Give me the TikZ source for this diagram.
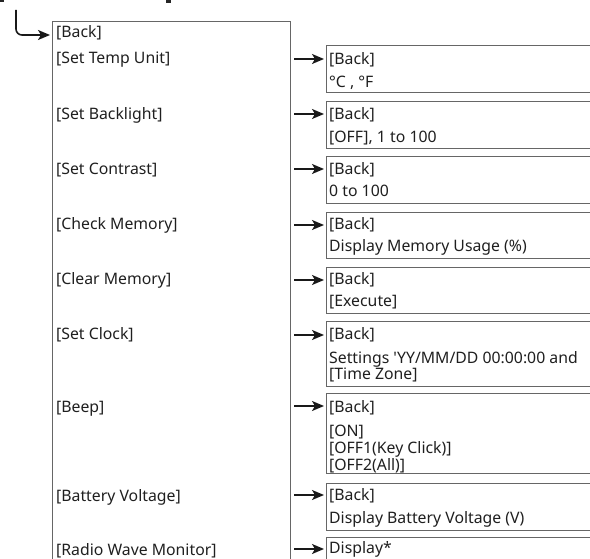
\documentclass[tikz,border=0pt]{standalone}
\usepackage{fontspec}
\newfontfamily\nsans{Noto Sans}
\usetikzlibrary{arrows.meta}
\begin{document}
\begin{tikzpicture}[x=1pt,y=-1pt,
  box/.style={draw=black!60,line width=1.3pt,anchor=north west,inner sep=0pt,minimum width=300pt},
  txt/.style={anchor=base west,inner sep=0pt,text=black!88,font=\nsans\fontsize{15.8}{17}\selectfont},
  arr/.style={line width=1.6pt,black!90,-{Stealth[length=12pt,width=10pt,inset=3pt]},shorten >=2pt}]
\useasboundingbox (0,0) rectangle (590,559);
\clip (0,0) rectangle (590,559);
% cut-off heading fragments
\fill[black!85] (0,0) rectangle (4,2);
\fill[black!85] (166,0) rectangle (171,3);
% main box
\node[box,minimum width=238pt,minimum height=600pt] (main) at (52,21) {};
% entry arrow
\coordinate (start) at (16,10);
\node[txt] (m0) at (56,38) {[Back]};
\draw[arr,rounded corners=6pt] (start) |- (main.west |- 0,35);
% main items
\node[txt] (m1) at (56,64) {[Set Temp Unit]};
\node[txt] (m2) at (56,120) {[Set Backlight]};
\node[txt] (m3) at (56,175) {[Set Contrast]};
\node[txt] (m4) at (56,230) {[Check Memory]};
\node[txt] (m5) at (56,285) {[Clear Memory]};
\node[txt] (m6) at (56,340) {[Set Clock]};
\node[txt] (m7) at (56,412) {[Beep]};
\node[txt] (m8) at (56,501) {[Battery Voltage]};
\node[txt] (m9) at (56,555) {[Radio Wave Monitor]};
% sub boxes
\node[box,minimum height=47pt] (b1) at (326,45) {};
\node[box,minimum height=47pt] (b2) at (326,101) {};
\node[box,minimum height=47pt] (b3) at (326,156) {};
\node[box,minimum height=46pt] (b4) at (326,212) {};
\node[box,minimum height=46pt] (b5) at (326,267) {};
\node[box,minimum height=65pt] (b6) at (326,321) {};
\node[box,minimum height=80pt] (b7) at (326,393) {};
\node[box,minimum height=47pt] (b8) at (326,483) {};
\node[box,minimum height=60pt] (b9) at (326,537) {};
% sub texts
\node[txt] (s1a) at (329,65) {[Back]};
\node[txt] (s1b) at (329,88) {°C , °F};
\node[txt] (s2a) at (329,120) {[Back]};
\node[txt] (s2b) at (329,143) {[OFF], 1 to 100};
\node[txt] (s3a) at (329,175) {[Back]};
\node[txt] (s3b) at (329,197) {0 to 100};
\node[txt] (s4a) at (329,230) {[Back]};
\node[txt] (s4b) at (329,252) {Display Memory Usage (\%)};
\node[txt] (s5a) at (329,285) {[Back]};
\node[txt] (s5b) at (329,307) {[Execute]};
\node[txt] (s6a) at (329,340) {[Back]};
\node[txt] (s6b) at (329,363) {Settings 'YY/MM/DD 00:00:00 and};
\node[txt] (s6c) at (329,380) {[Time Zone]};
\node[txt] (s7a) at (329,412) {[Back]};
\node[txt] (s7b) at (329,436) {[ON]};
\node[txt] (s7c) at (329,453) {[OFF1(Key Click)]};
\node[txt] (s7d) at (329,470) {[OFF2(All)]};
\node[txt] (s8a) at (329,500) {[Back]};
\node[txt] (s8b) at (329,523) {Display Battery Voltage (V)};
\node[txt] (s9a) at (329,553) {Display*};
% connectors
\foreach \i/\y in {1/59,2/114,3/169,4/225,5/280,6/335,7/406,8/495,9/549}{
  \draw[arr] ([xshift=3pt]main.east |- 0,\y) -- (b\i.west |- 0,\y);
}
\end{tikzpicture}
\end{document}
